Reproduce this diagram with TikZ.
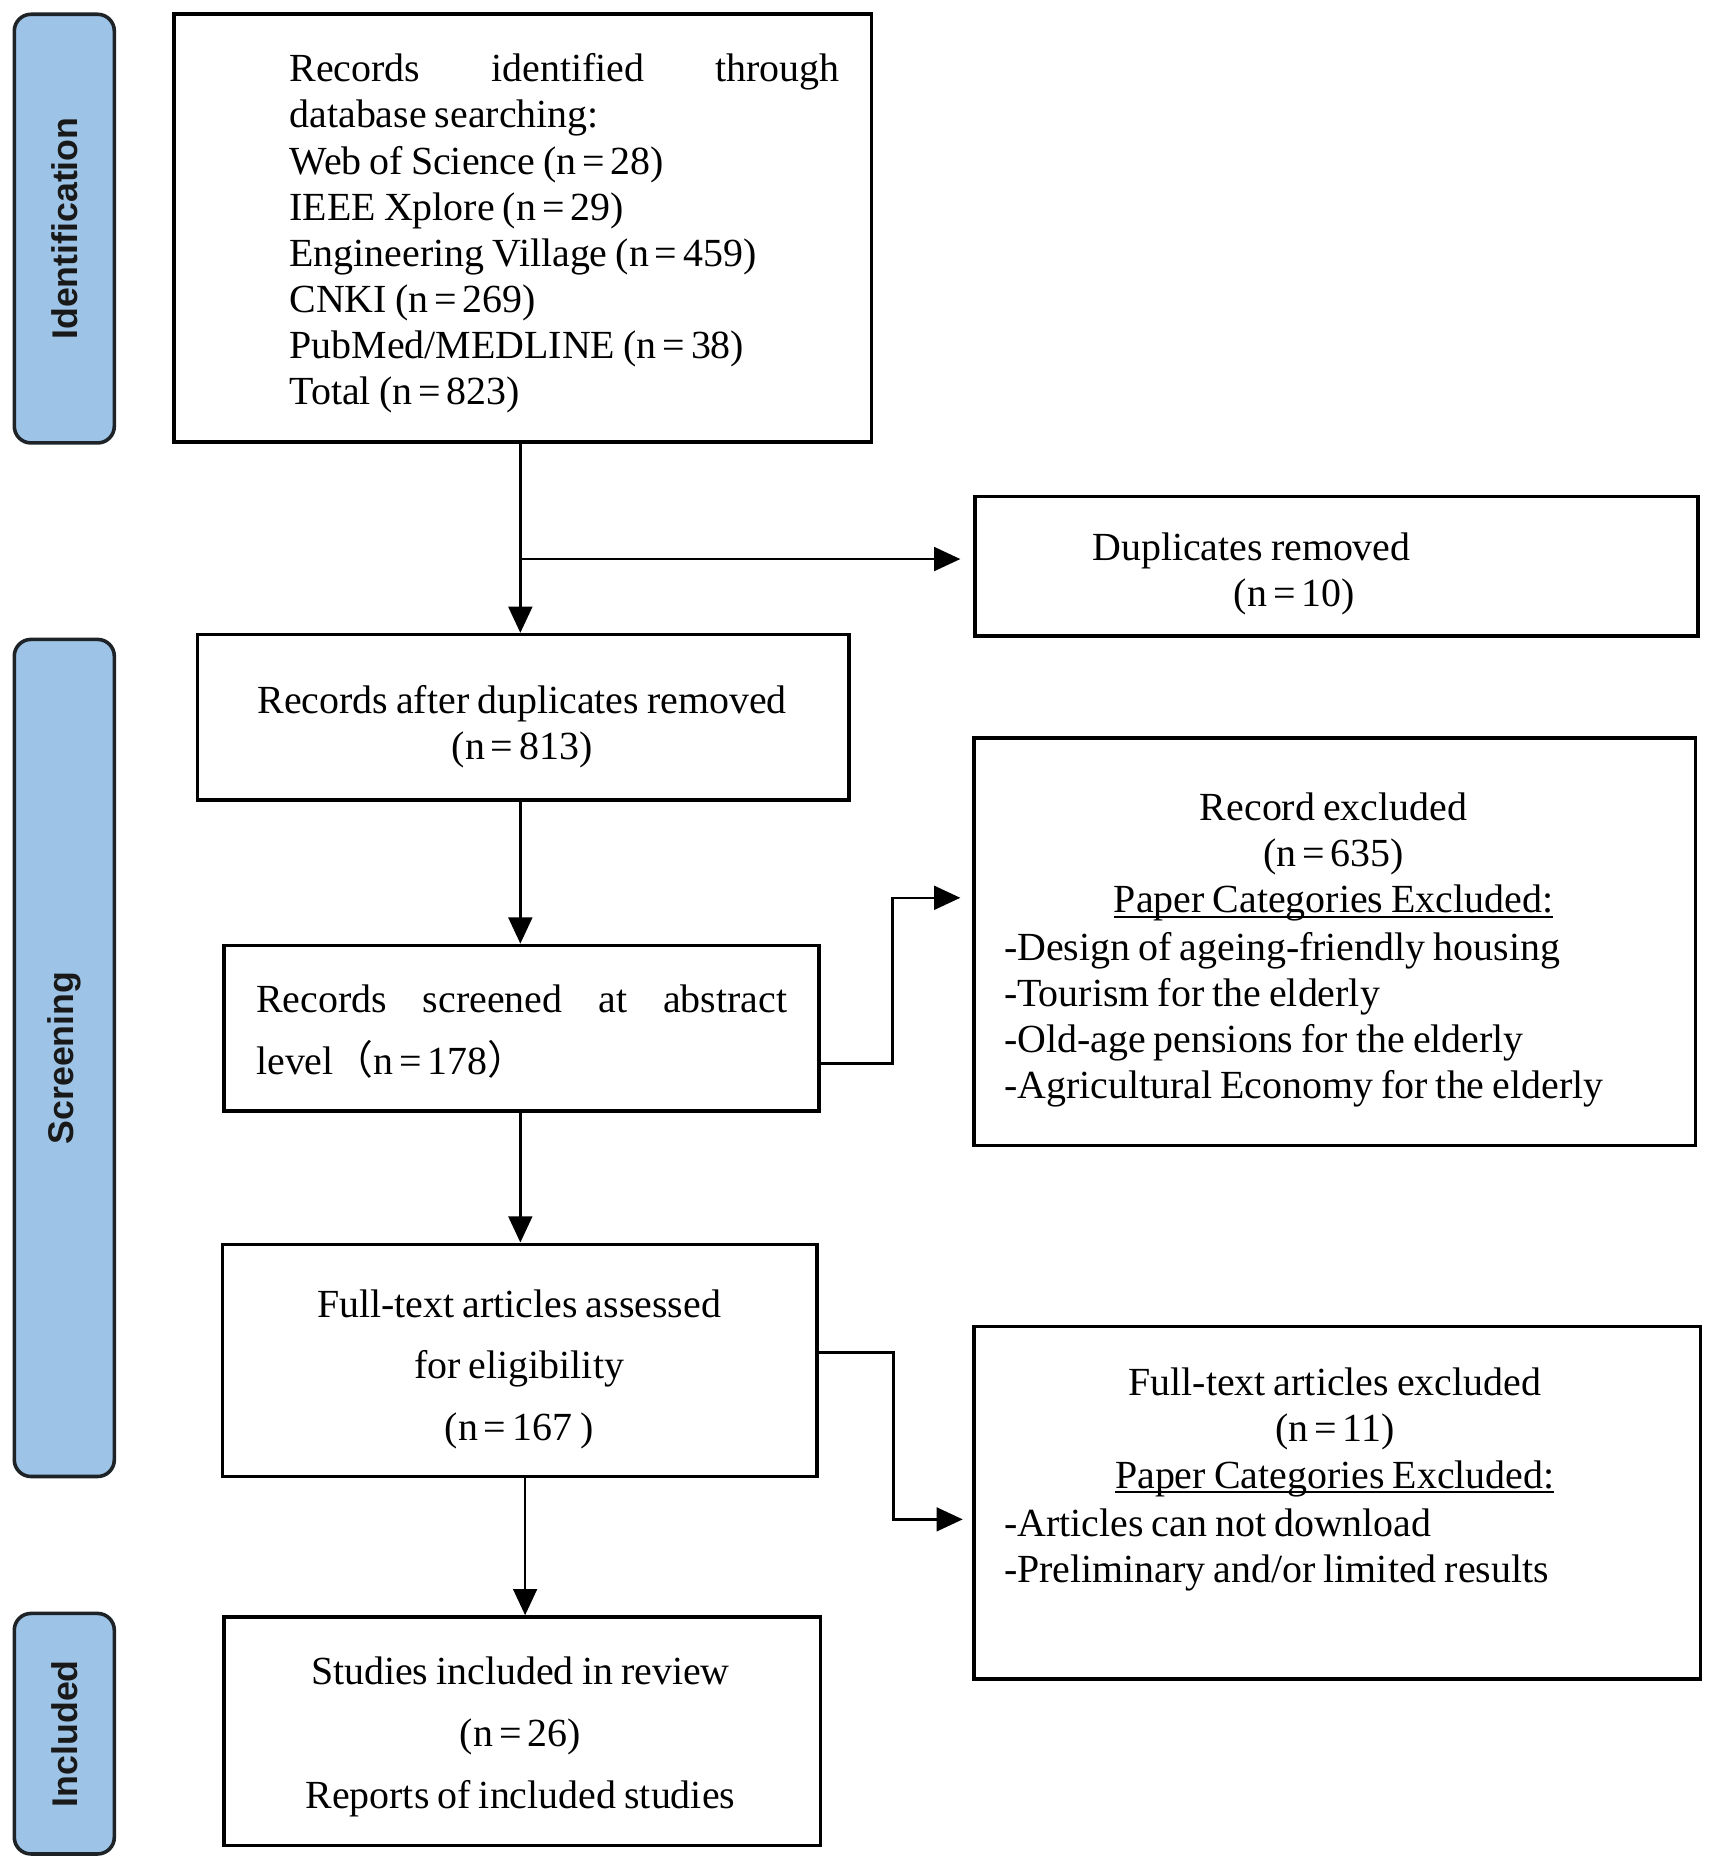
\documentclass[tikz,border=0pt]{standalone}
\usepackage{fontspec}
\setmainfont{Liberation Serif}
\newfontfamily\cjk{Noto Sans CJK SC}
\newfontfamily\lblfont{Liberation Sans}
\usetikzlibrary{arrows.meta,calc}
\definecolor{sideblue}{RGB}{157,195,230}
\definecolor{sideedge}{RGB}{30,35,40}
\newcommand{\myul}[1]{\setbox0\hbox{#1}\rlap{\rule[-4pt]{\wd0}{1.8pt}}\box0}
\newcommand{\eqs}{\kern5pt=\kern5pt}
\newcommand{\tightsp}{\spaceskip=6.8pt\relax}
\begin{document}
\begin{tikzpicture}[x=1pt,y=-1pt,
  boxnode/.style={draw=black, line width=3pt, inner sep=0pt, fill=white},
  sidebar/.style={draw=sideedge, line width=3pt, fill=sideblue, rounded corners=14pt,
    inner sep=0pt, minimum width=84pt, font=\lblfont\bfseries\fontsize{30}{36}\selectfont, text=black!90},
  txt/.style={inner sep=0pt, font=\fontsize{33.5}{38.7}\selectfont, execute at begin node=\tightsp},
  txtwide/.style={inner sep=0pt, font=\fontsize{33.5}{52}\selectfont, execute at begin node=\tightsp},
  arr/.style={line width=2pt, -{Triangle[length=22pt,width=20pt]}}
]
\useasboundingbox (0,0) rectangle (1440,1573);

% side bars
\node[sidebar, minimum height=360pt] (sid) at (54,192) {\rotatebox{90}{Identification}};
\node[sidebar, minimum height=703pt] (sscr) at (54,888.5) {\rotatebox{90}{Screening}};
\node[sidebar, minimum height=202pt] (sinc) at (54,1456) {\rotatebox{90}{Included}};

% boxes
\node[boxnode, minimum width=586pt, minimum height=359pt] (b1) at (439,191.5) {};
\node[boxnode, minimum width=607pt, minimum height=117pt] (dup) at (1122.5,475.5) {};
\node[boxnode, minimum width=547pt, minimum height=139pt] (b2) at (439.5,602.5) {};
\node[boxnode, minimum width=500pt, minimum height=139pt] (b3) at (438,863.5) {};
\node[boxnode, minimum width=606pt, minimum height=342pt] (rex) at (1121,791) {};
\node[boxnode, minimum width=499pt, minimum height=195pt] (b4) at (436.5,1142.5) {};
\node[boxnode, minimum width=610pt, minimum height=296pt] (fex) at (1123,1262) {};
\node[boxnode, minimum width=501pt, minimum height=192pt] (b5) at (438.5,1454) {};

% texts
\node[txt, anchor=north west, text width=462pt, align=left] (t1) at (243,45)
  {Records\hfill identified\hfill through\\database searching:\\Web of Science (n\eqs 28)\\IEEE Xplore (n\eqs 29)\\Engineering Village (n\eqs 459)\\CNKI (n\eqs 269)\\PubMed/MEDLINE (n\eqs 38)\\Total (n\eqs 823)};
\node[txt, align=center] (tdup) at (1051,482)
  {Duplicates removed\\\hspace*{72pt}(n\eqs 10)};
\node[txt, align=center] (t2) at (438.5,610)
  {Records after duplicates removed\\(n\eqs 813)};
\node[txtwide, anchor=north west, text width=446pt, align=left] (t3) at (215,827)
  {Records\hfill screened\hfill at\hfill abstract\\level{\cjk （}n\eqs 178{\cjk ）}};
\node[txt, align=center] (trex) at (1120,720)
  {Record excluded\\(n\eqs 635)\\\myul{Paper Categories Excluded:}};
\node[txt, anchor=north west, align=left] (trexl) at (843,783)
  {-Design of ageing-friendly housing\\-Tourism for the elderly\\-Old-age pensions for the elderly\\-Agricultural Economy for the elderly};
\node[txtwide, align=center] (t4) at (436,1150)
  {Full-text articles assessed\\for eligibility\\(n\eqs 167 )};
\node[txt, align=center] (tfex) at (1121,1203)
  {Full-text articles excluded\\(n\eqs 11)\\\myul{Paper Categories Excluded:}};
\node[txt, anchor=north west, align=left] (tfexl) at (843,1267)
  {-Articles can not download\\-Preliminary and/or limited results};
\node[txtwide, align=center] (t5) at (437,1459)
  {Studies included in review\\(n\eqs 26)\\Reports of included studies};

% connectors
\coordinate (j1) at ($(b1.south)+(-2,97)$);
\draw[arr] ($(b1.south)+(-2,0)$) -- ($(b2.north)+(-2.5,0)$);
\draw[arr, shorten >=11pt] (j1) -- (j1 -| dup.west);
\draw[arr] ($(b2.south)+(-2.5,0)$) -- ($(b3.north)+(-1,0)$);
\coordinate (k1) at ($(b3.east)+(60,29.5)$);
\coordinate (k2) at ($(rex.west)+(0,-37)$);
\draw[arr, shorten >=10pt] ($(b3.east)+(0,29.5)$) -- (k1) |- (k2);
\draw[arr] ($(b3.south)+(-1,0)$) -- ($(b4.north)+(0.5,0)$);
\coordinate (m1) at ($(b4.east)+(63,-6.5)$);
\coordinate (m2) at ($(fex.west)+(0,14)$);
\draw[arr, shorten >=8pt] ($(b4.east)+(0,-6.5)$) -- (m1) |- (m2);
\draw[arr] ($(b4.south)+(4.5,0)$) -- ($(b5.north)+(2.5,0)$);
\end{tikzpicture}
\end{document}
